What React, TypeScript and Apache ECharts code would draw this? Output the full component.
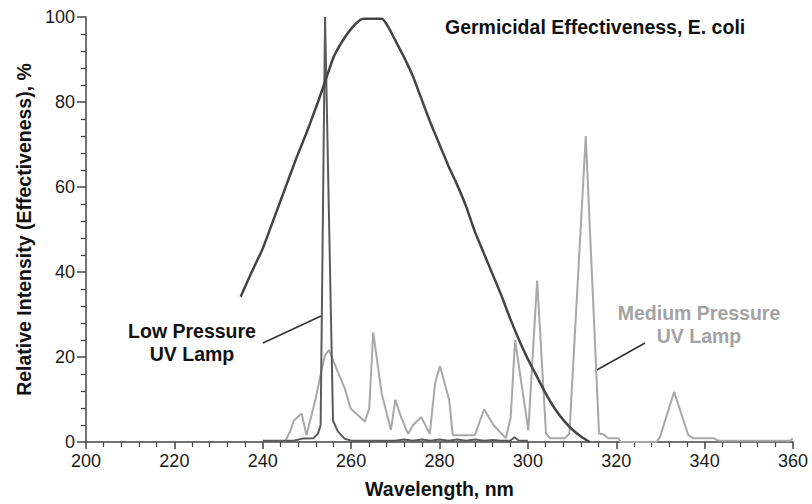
import React, { useEffect, useRef } from "react";
import * as echarts from "echarts";

const xTickValues = [200, 220, 240, 260, 280, 300, 320, 340, 360];
const yTickValues = [0, 20, 40, 60, 80, 100];

const germWavelength = [235, 237.5, 240, 242.5, 245, 247.5, 250, 252.5, 254.5, 256, 258, 260, 262, 263, 267, 268.5, 270, 272, 274, 276, 278, 280, 282, 284, 286, 288, 290, 292, 294, 296, 298, 300, 302, 304, 306, 308, 310, 312, 314];
const germEffect = [34.2, 40, 45.5, 52.5, 59.5, 66.5, 73, 80, 86, 90.5, 94.3, 97.2, 99.3, 99.6, 99.6, 97.5, 94.5, 90.5, 86, 80.5, 75, 70, 65, 60.5, 55.5, 49.5, 44.5, 39.5, 34.5, 29, 24, 19.5, 15.5, 11.5, 8, 5.2, 3, 1.3, 0];

const lowWavelength = [240, 247, 249, 251.5, 252.5, 253.1, 254.1, 255.9, 257, 258.5, 260, 270, 272, 274, 276, 278, 280, 282, 284, 286, 288, 290, 292, 294, 296, 297, 298, 300];
const lowIntensity = [0.3, 0.3, 0.8, 0.9, 2, 4, 100, 5, 2.5, 0.8, 0.3, 0.3, 0.6, 0.3, 0.6, 0.3, 0.6, 0.3, 0.6, 0.3, 0.6, 0.3, 0.5, 0.3, 0.3, 1.1, 0.3, 0.3];

const medWavelength = [245, 246.2, 247, 248.8, 249.9, 252, 253, 254.1, 255, 257, 258.6, 259.9, 263.1, 264.1, 265, 266.9, 269, 270, 271.4, 272.9, 274, 275.9, 277.8, 279, 280.1, 282.2, 283, 288, 290.1, 292.2, 295, 296.1, 297.1, 300.1, 302.1, 304.1, 305, 308.4, 309.4, 313.1, 316.1, 317.1, 318.2, 320.5, 321, 329.1, 329.9, 333.1, 336.3, 337.4, 342, 343.1, 359.3, 360];
const medIntensity = [0, 2.5, 5, 6.7, 1.6, 10.3, 15.4, 20.5, 21.6, 16.5, 12.5, 7.9, 4.8, 7.9, 25.8, 11.5, 2.8, 9.9, 5.6, 1.9, 4, 5.8, 1.9, 13.8, 17.9, 9.9, 1.6, 1.6, 7.7, 4, 0.9, 5.6, 24, 2.8, 38, 2, 0.9, 0.9, 2, 72, 2, 1.8, 0.9, 0.9, 0, 0, 1.2, 11.8, 1.6, 0.9, 0.9, 0.3, 0.3, 0.9];

const zip = (xs: number[], ys: number[]) => xs.map((x, i) => [x, ys[i]]);

const FONT = '"Liberation Sans", Arial, Helvetica, sans-serif';
const AXIS_COLOR = "#444";
const BOLD_SIZE = 19.5;

export default function App() {
  const ref = useRef<HTMLDivElement>(null);
  useEffect(() => {
    const chart = echarts.init(ref.current!, null, { renderer: "svg" });
    const axisCommon = {
      type: "value" as const,
      axisLine: { show: true, lineStyle: { color: AXIS_COLOR, width: 1.5 } },
      splitLine: { show: false },
      axisLabel: { fontSize: 18, color: "#1a1a1a", fontFamily: FONT },
      nameTextStyle: { fontSize: BOLD_SIZE, fontWeight: "bold", color: "#111", fontFamily: FONT },
      nameLocation: "middle" as const,
    };
    chart.setOption({
      animation: false,
      backgroundColor: "#fff",
      textStyle: { fontFamily: FONT },
      grid: { left: 86, right: 19, top: 17, bottom: 62, containLabel: false },
      xAxis: {
        ...axisCommon,
        min: xTickValues[0],
        max: xTickValues[xTickValues.length - 1],
        interval: 20,
        name: "Wavelength, nm",
        nameGap: 37,
        axisTick: { length: 7, lineStyle: { color: AXIS_COLOR, width: 1.5 } },
        minorTick: { show: true, splitNumber: 5, length: 5, lineStyle: { color: AXIS_COLOR, width: 1.2 } },
        axisLabel: { ...axisCommon.axisLabel, margin: 10 },
      },
      yAxis: {
        ...axisCommon,
        min: yTickValues[0],
        max: yTickValues[yTickValues.length - 1],
        interval: 20,
        name: "Relative Intensity (Effectiveness), %",
        nameGap: 52,
        nameRotate: 90,
        axisTick: { length: 9, lineStyle: { color: AXIS_COLOR, width: 1.5 } },
        minorTick: { show: true, splitNumber: 5, length: 5, lineStyle: { color: AXIS_COLOR, width: 1.2 } },
        axisLabel: { ...axisCommon.axisLabel, margin: 11 },
      },
      series: [
        {
          name: "Medium Pressure UV Lamp",
          type: "line",
          data: zip(medWavelength, medIntensity),
          showSymbol: false,
          symbol: "none",
          lineStyle: { color: "#a8a8a8", width: 2 },
          z: 2,
        },
        {
          name: "Low Pressure UV Lamp",
          type: "line",
          data: zip(lowWavelength, lowIntensity),
          showSymbol: false,
          symbol: "none",
          lineStyle: { color: "#5a5a5a", width: 2 },
          z: 3,
        },
        {
          name: "Germicidal Effectiveness, E. coli",
          type: "line",
          data: zip(germWavelength, germEffect),
          showSymbol: false,
          symbol: "none",
          smooth: 0.15,
          lineStyle: { color: "#444", width: 2.5 },
          z: 4,
        },
      ],
      graphic: [
        {
          type: "text",
          x: 445,
          y: 17,
          style: { text: "Germicidal Effectiveness, E. coli", fontSize: BOLD_SIZE, fontWeight: "bold", fontFamily: FONT, fill: "#111", align: "left", verticalAlign: "top" },
        },
        {
          type: "text",
          x: 192,
          y: 319,
          style: { text: "Low Pressure\nUV Lamp", fontSize: BOLD_SIZE, fontWeight: "bold", fontFamily: FONT, fill: "#111", align: "center", verticalAlign: "top", lineHeight: 23 },
        },
        {
          type: "text",
          x: 699,
          y: 301,
          style: { text: "Medium Pressure\nUV Lamp", fontSize: BOLD_SIZE, fontWeight: "bold", fontFamily: FONT, fill: "#a3a3a3", align: "center", verticalAlign: "top", lineHeight: 23 },
        },
        {
          type: "line",
          shape: { x1: 263, y1: 343, x2: 321, y2: 316 },
          style: { stroke: "#333", lineWidth: 1.5 },
        },
        {
          type: "line",
          shape: { x1: 595, y1: 371, x2: 645, y2: 343 },
          style: { stroke: "#333", lineWidth: 1.5 },
        },
      ],
    });
    return () => chart.dispose();
  }, []);
  return <div ref={ref} style={{ position: "fixed", left: 0, top: 0, width: 812, height: 504, background: "#fff" }} />;
}
